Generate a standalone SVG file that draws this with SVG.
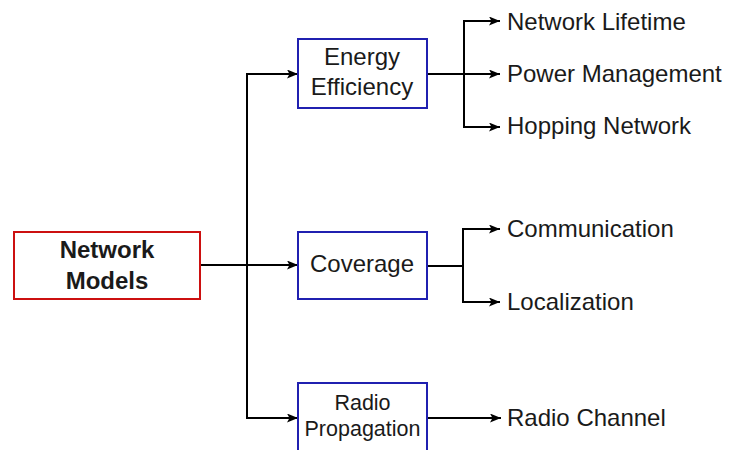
<svg xmlns="http://www.w3.org/2000/svg" width="731" height="450" viewBox="0 0 731 450">
<style>
text{font-family:"Liberation Sans",Arial,sans-serif;fill:#1a1a1a}
.lbl{font-size:24px}
.box{font-size:24px;text-anchor:middle}
.small{font-size:21.5px;text-anchor:middle}
.bold{font-size:24px;font-weight:bold;text-anchor:middle}
.blue{fill:#fff;stroke:#2020b0;stroke-width:2}
.red{fill:#fff;stroke:#cc1010;stroke-width:2}
.c{fill:none;stroke:#000;stroke-width:2}
</style>
<defs>
<marker id="ah" viewBox="0 0 11 9" refX="11" refY="4.5" markerWidth="11" markerHeight="9" markerUnits="userSpaceOnUse" orient="auto">
<path d="M0,0 L11,4.5 L0,9 L2.5,4.5 Z" fill="#000"/>
</marker>
</defs>
<rect width="731" height="450" fill="#fff"/>
<g id="connectors">
<path class="c" d="M200,265 H298" marker-end="url(#ah)"/>
<path class="c" d="M247,265 V74 H298" marker-end="url(#ah)"/>
<path class="c" d="M247,265 V418 H298" marker-end="url(#ah)"/>
<path class="c" d="M427,74 H500" marker-end="url(#ah)"/>
<path class="c" d="M464,74 V21 H500" marker-end="url(#ah)"/>
<path class="c" d="M464,74 V127 H500" marker-end="url(#ah)"/>
<path class="c" d="M427,266 H463"/>
<path class="c" d="M463,266 V229 H500" marker-end="url(#ah)"/>
<path class="c" d="M463,266 V302 H500" marker-end="url(#ah)"/>
<path class="c" d="M427,418 H501" marker-end="url(#ah)"/>
</g>
<g id="network-models">
<rect class="red" x="14" y="232" width="186" height="67"/>
<text class="bold" x="107" y="258">Network</text>
<text class="bold" x="107" y="289">Models</text>
</g>
<g id="energy-efficiency">
<rect class="blue" x="298" y="39" width="129" height="69"/>
<text class="box" x="362" y="65">Energy</text>
<text class="box" x="362" y="95">Efficiency</text>
</g>
<g id="coverage">
<rect class="blue" x="298" y="232" width="129" height="67"/>
<text class="box" x="362" y="272">Coverage</text>
</g>
<g id="radio-propagation">
<rect class="blue" x="298" y="383" width="129" height="80"/>
<text class="small" x="362.5" y="410">Radio</text>
<text class="small" x="362.5" y="436">Propagation</text>
</g>
<g id="network-lifetime"><text class="lbl" x="507" y="30">Network Lifetime</text></g>
<g id="power-management"><text class="lbl" x="507" y="82">Power Management</text></g>
<g id="hopping-network"><text class="lbl" x="507" y="134">Hopping Network</text></g>
<g id="communication"><text class="lbl" x="507" y="237">Communication</text></g>
<g id="localization"><text class="lbl" x="507" y="310">Localization</text></g>
<g id="radio-channel"><text class="lbl" x="507" y="426">Radio Channel</text></g>
</svg>
